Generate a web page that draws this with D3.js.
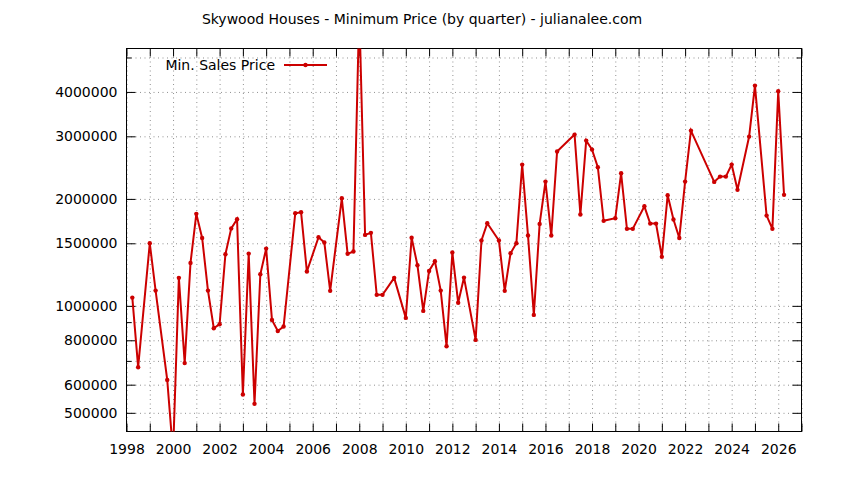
<!DOCTYPE html>
<html>
<head>
<meta charset="utf-8">
<script src="https://cdn.jsdelivr.net/npm/d3@7"></script>
<style>
    body { margin: 0; background: #fff; }
    text { font-family: "DejaVu Sans", sans-serif; fill: #000; }
</style>
</head>
<body>
<div id="chart"></div>
<script>
// quarter (decimal year) and minimum sales price
var quarters = [
    1998.25, 1998.5, 1999.0, 1999.25, 1999.75, 2000.0, 2000.25, 2000.5, 2000.75,
    2001.0, 2001.25, 2001.5, 2001.75, 2002.0, 2002.25, 2002.5, 2002.75,
    2003.0, 2003.25, 2003.5, 2003.75, 2004.0, 2004.25, 2004.5, 2004.75,
    2005.25, 2005.5, 2005.75, 2006.25, 2006.5, 2006.75,
    2007.25, 2007.5, 2007.75, 2008.0, 2008.25, 2008.5, 2008.75,
    2009.0, 2009.5, 2010.0, 2010.25, 2010.5, 2010.75,
    2011.0, 2011.25, 2011.5, 2011.75, 2012.0, 2012.25, 2012.5,
    2013.0, 2013.25, 2013.5, 2014.0, 2014.25, 2014.5, 2014.75,
    2015.0, 2015.25, 2015.5, 2015.75, 2016.0, 2016.25, 2016.5,
    2017.25, 2017.5, 2017.75, 2018.0, 2018.25, 2018.5,
    2019.0, 2019.25, 2019.5, 2019.75, 2020.25, 2020.5, 2020.75,
    2021.0, 2021.25, 2021.5, 2021.75, 2022.0, 2022.25,
    2023.25, 2023.5, 2023.75, 2024.0, 2024.25, 2024.75,
    2025.0, 2025.5, 2025.75, 2026.0, 2026.25
];
var minPrices = [
    1055000, 672000, 1500000, 1104000, 619000, 385000, 1199000, 690000, 1321000,
    1815000, 1553000, 1104000, 865000, 888000, 1397000, 1652000, 1753000,
    563000, 1403000, 530000, 1227000, 1449000, 913000, 850000, 875000,
    1822000, 1834000, 1249000, 1560000, 1507000, 1102000,
    2008000, 1401000, 1422000, 6800000, 1584000, 1605000, 1074000,
    1074000, 1199000, 925000, 1555000, 1301000, 968000,
    1254000, 1335000, 1104000, 770000, 1413000, 1020000, 1201000,
    802000, 1527000, 1708000, 1527000, 1102000, 1406000, 1500000,
    2498000, 1577000, 943000, 1701000, 2237000, 1577000, 2718000,
    3034000, 1807000, 2918000, 2753000, 2455000, 1735000,
    1764000, 2361000, 1647000, 1647000, 1906000, 1704000, 1704000,
    1374000, 2048000, 1750000, 1553000, 2237000, 3113000,
    2233000, 2311000, 2311000, 2498000, 2121000, 2995000,
    4168000, 1795000, 1647000, 4017000, 2053000
];

var yearTicks = d3.range(1998, 2028);
var xLabelYears = [1998, 2000, 2002, 2004, 2006, 2008, 2010, 2012, 2014, 2016, 2018, 2020, 2022, 2024, 2026];
var yMajorTicks = [500000, 600000, 800000, 1000000, 1500000, 2000000, 3000000, 4000000];
var yMinorTicks = [700000, 900000, 5000000];

var chartTitle = 'Skywood Houses - Minimum Price (by quarter) - julianalee.com';
var seriesName = 'Min. Sales Price';
var lineColor = '#cc0000';
var fontSize = '14px';

var W = 844, H = 480;
var pLeft = 126.5, pRight = 801.5, pTop = 48.5, pBottom = 431.5;

var svg = d3.select('#chart').append('svg').attr('width', W).attr('height', H);

var x = d3.scaleLinear().domain([1998, 2027]).range([pLeft, pRight]);
var y = d3.scaleLog().domain([443000, 5300000]).range([pBottom, pTop]);

// grid (dotted)
var grid = svg.append('g').attr('class', 'grid');
grid.append('g').attr('transform', 'translate(0,' + pBottom + ')')
    .call(d3.axisBottom(x).tickValues(yearTicks).tickSize(-(pBottom - pTop)).tickFormat(''));
grid.append('g').attr('transform', 'translate(' + pLeft + ',0)')
    .call(d3.axisLeft(y).tickValues(yMajorTicks.concat(yMinorTicks)).tickSize(-(pRight - pLeft)).tickFormat(''));
grid.selectAll('.domain').remove();
grid.selectAll('line').attr('stroke', '#909090').attr('stroke-width', 1).attr('stroke-dasharray', '1,3.5');

// tick marks, mirrored on all sides
function ticks(axis, tx, ty) {
    var g = svg.append('g').attr('transform', 'translate(' + tx + ',' + ty + ')').call(axis);
    g.selectAll('.domain').remove();
    g.selectAll('line').attr('stroke', '#000');
    g.selectAll('text').style('font-size', fontSize).style('font-family', '"DejaVu Sans", sans-serif').attr('fill', '#000');
    return g;
}
ticks(d3.axisBottom(x).tickValues(yearTicks).tickSizeInner(-8).tickSizeOuter(0).tickPadding(13)
    .tickFormat(function(d){ return xLabelYears.indexOf(d) >= 0 ? d : ''; }), 0, pBottom);
ticks(d3.axisTop(x).tickValues(yearTicks).tickSizeInner(-8).tickSizeOuter(0).tickFormat(''), 0, pTop);
ticks(d3.axisLeft(y).tickValues(yMajorTicks).tickSizeInner(-9).tickSizeOuter(0).tickPadding(9)
    .tickFormat(function(d){ return d; }), pLeft, 0);
ticks(d3.axisLeft(y).tickValues(yMinorTicks).tickSizeInner(-5).tickSizeOuter(0).tickFormat(''), pLeft, 0);
ticks(d3.axisRight(y).tickValues(yMajorTicks).tickSizeInner(-9).tickSizeOuter(0).tickFormat(''), pRight, 0);
ticks(d3.axisRight(y).tickValues(yMinorTicks).tickSizeInner(-5).tickSizeOuter(0).tickFormat(''), pRight, 0);

// border
svg.append('rect').attr('x', pLeft).attr('y', pTop).attr('width', pRight - pLeft).attr('height', pBottom - pTop)
    .attr('fill', 'none').attr('stroke', '#000').attr('stroke-width', 1);

svg.append('clipPath').attr('id', 'plotclip').append('rect')
    .attr('x', pLeft).attr('y', pTop).attr('width', pRight - pLeft).attr('height', pBottom - pTop);

var data = quarters.map(function(q, i){ return {q: q, v: minPrices[i]}; });

var line = d3.line().x(function(d){ return x(d.q); }).y(function(d){ return y(d.v); });

var plot = svg.append('g').attr('clip-path', 'url(#plotclip)');
plot.append('path').datum(data).attr('d', line)
    .attr('fill', 'none').attr('stroke', lineColor).attr('stroke-width', 2).attr('stroke-linejoin', 'miter');
plot.selectAll('circle').data(data).enter().append('circle')
    .attr('cx', function(d){ return x(d.q); })
    .attr('cy', function(d){ return y(d.v); })
    .attr('r', 2.2).attr('fill', lineColor);

// legend
svg.append('text').text(seriesName).attr('x', 275).attr('y', 70)
    .attr('text-anchor', 'end').style('font-size', fontSize);
svg.append('line').attr('x1', 284).attr('x2', 327).attr('y1', 65).attr('y2', 65)
    .attr('stroke', lineColor).attr('stroke-width', 2);
svg.append('circle').attr('cx', 305.5).attr('cy', 65).attr('r', 2.2).attr('fill', lineColor);

// title
svg.append('text').text(chartTitle).attr('x', 422).attr('y', 24)
    .attr('text-anchor', 'middle').style('font-size', fontSize);
</script>
</body>
</html>
